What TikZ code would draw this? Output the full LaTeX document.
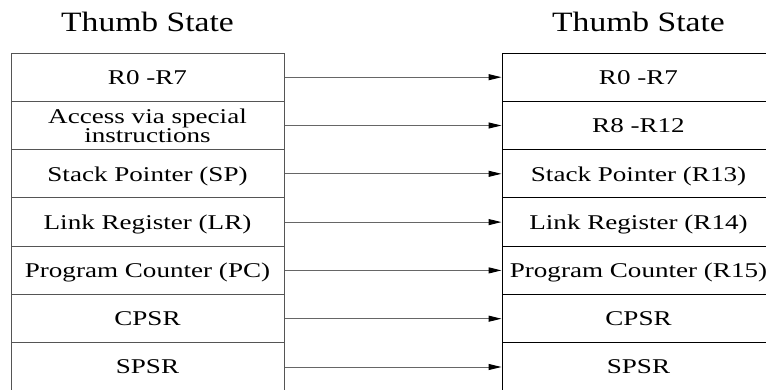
\documentclass[tikz,border=0pt]{standalone}
\usepackage{fontspec}
\setmainfont{Liberation Serif}
\newfontfamily\cellfont{Liberation Serif}[FakeStretch=1.29]
\newfontfamily\headfont{Liberation Serif}[FakeStretch=1.2]
\usetikzlibrary{arrows.meta}
\definecolor{leftline}{HTML}{555555}
\definecolor{arrowline}{HTML}{666666}
\tikzset{
  cell/.style={draw, line width=1pt, minimum width=273pt, minimum height=48.3pt,
    inner sep=0pt, text depth=0pt, align=center,
    font=\cellfont\fontsize{21}{18}\selectfont},
  leftcell/.style={cell, draw=leftline},
  rightcell/.style={cell, draw=black},
  head/.style={font=\headfont\fontsize{28}{30}\selectfont, inner sep=0pt},
  link/.style={draw=arrowline, line width=1pt,
    -{Triangle[length=13pt,width=6pt,fill=black,color=black]}}
}
\begin{document}
\begin{tikzpicture}[x=1pt,y=-1pt]
  \useasboundingbox (0,0) rectangle (766,389);
  \clip (0,0) rectangle (766,389);

  % column headings
  \node[head] (hl) at (147.5,22) {Thumb State};
  \node[head] (hr) at (638.5,22) {Thumb State};

  % left register column
  \node[leftcell] (l1) at (147.5,77.2)  {R0 -R7};
  \node[leftcell] (l2) at (147.5,125.5) {Access via special\\instructions};
  \node[leftcell] (l3) at (147.5,173.8) {Stack Pointer (SP)};
  \node[leftcell] (l4) at (147.5,222.1) {Link Register (LR)};
  \node[leftcell] (l5) at (147.5,270.4) {Program Counter (PC)};
  \node[leftcell] (l6) at (147.5,318.7) {CPSR};
  \node[leftcell] (l7) at (147.5,367.0) {SPSR};

  % right register column
  \node[rightcell] (r1) at (638.5,77.2)  {R0 -R7};
  \node[rightcell] (r2) at (638.5,125.5) {R8 -R12};
  \node[rightcell] (r3) at (638.5,173.8) {Stack Pointer (R13)};
  \node[rightcell] (r4) at (638.5,222.1) {Link Register (R14)};
  \node[rightcell] (r5) at (638.5,270.4) {Program Counter (R15)};
  \node[rightcell] (r6) at (638.5,318.7) {CPSR};
  \node[rightcell] (r7) at (638.5,367.0) {SPSR};

  % mappings
  \foreach \i in {1,...,7}
    \draw[link] (l\i.east) -- (r\i.west);
\end{tikzpicture}
\end{document}
